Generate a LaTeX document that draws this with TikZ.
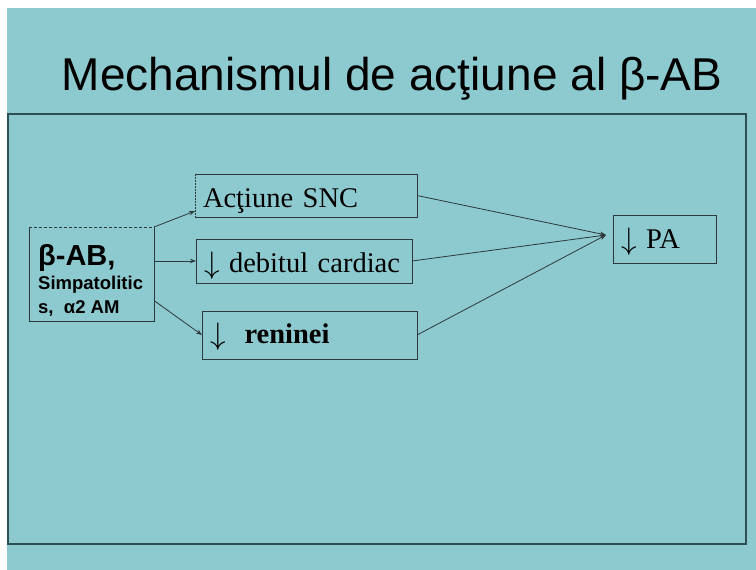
\documentclass[tikz,border=0pt]{standalone}
\usepackage{fontspec}
\setmainfont{Liberation Serif}
\setsansfont{Liberation Sans}
\usetikzlibrary{arrows.meta}

\definecolor{slideteal}{RGB}{141,202,208}
\definecolor{frameline}{RGB}{45,80,84}
\definecolor{boxline}{RGB}{44,56,58}

\newcommand{\dn}{\raisebox{-1.5pt}{\scalebox{1.25}{$\downarrow$}}}

\begin{document}
\begin{tikzpicture}
      [
        x = 1pt, y = -1pt,
        FlowBox/.style={draw=boxline, line width=0.9pt, outer sep=0pt, inner xsep=8pt, inner ysep=0pt,
          font=\fontsize{28.5}{30}\selectfont, text=black, anchor=center, align=left},
        FlowArrow/.style={draw=boxline, line width=0.8pt, -{Stealth[length=6pt, width=4.5pt]}},
      ]

      % slide background
      \fill [white] (0,0) rectangle (756,570);
      \fill [slideteal] (7,8) rectangle (756,570);
      \draw [frameline, line width=1.4pt] (8,114) rectangle (746,544);

      \node [font=\sffamily\fontsize{46}{50}\selectfont, anchor=base] (title) at (392,90)
        {Mechanismul de acţiune al β-AB};

      % drug box, top edge dashed
      \node [minimum width=125pt, minimum height=94pt, outer sep=0pt, inner sep=0pt] (bab) at (91.5,274) {};
      \node [font=\sffamily\bfseries\fontsize{29}{30}\selectfont, anchor=base west, inner xsep=0pt] (babtxt) at (38,265) {β-AB,};
      \node [font=\sffamily\bfseries\fontsize{18.5}{20}\selectfont, anchor=base west, inner xsep=0pt] (simp) at (38,289) {Simpatolitic};
      \node [font=\sffamily\bfseries\fontsize{18.5}{20}\selectfont, anchor=base west, inner xsep=0pt] (alfa) at (38,313) {s,\ \ α2 AM};
      \draw [boxline, line width=0.9pt] (bab.north east) -- (bab.south east) -- (bab.south west) -- (bab.north west);
      \draw [boxline, line width=0.9pt, dash pattern=on 3pt off 2pt] (bab.north west) -- (bab.north east);

      % effects
      \node [FlowBox, draw=none, text height=33pt, text depth=10pt, text width=206pt] (act) at (306,195.5) {\mbox{Acţiune SNC}};
      \draw [boxline, line width=0.9pt] (act.south west) -- (act.south east) -- (act.north east) -- (act.north west);
      \draw [boxline, line width=0.9pt, dash pattern=on 1.5pt off 1.5pt] (act.north west) -- (act.south west);

      \node [FlowBox, text height=33pt, text depth=11pt, text width=200pt] (deb) at (304,261) {\mbox{\dn\ debitul cardiac}};
      \node [FlowBox, text height=32pt, text depth=16pt, text width=199pt] (ren) at (309.5,335) {\mbox{\dn\ \ \textbf{reninei}}};
      \node [FlowBox, text height=33pt, text depth=15pt, text width=87pt] (pa) at (664.5,239) {\mbox{\dn\ PA}};

      \coordinate (pain) at ([xshift=-7pt, yshift=4pt]pa.west);

      \draw [FlowArrow] (bab.north east) -- (act.188);
      \draw [FlowArrow] (bab.east |- deb.west) -- (deb.west);
      \draw [FlowArrow] (bab.-23) -- (ren.west);

      \draw [FlowArrow] (act.east) -- (pain);
      \draw [FlowArrow] (deb.east) -- (pain);
      \draw [FlowArrow] (ren.east) -- (pain);
    \end{tikzpicture}
\end{document}
